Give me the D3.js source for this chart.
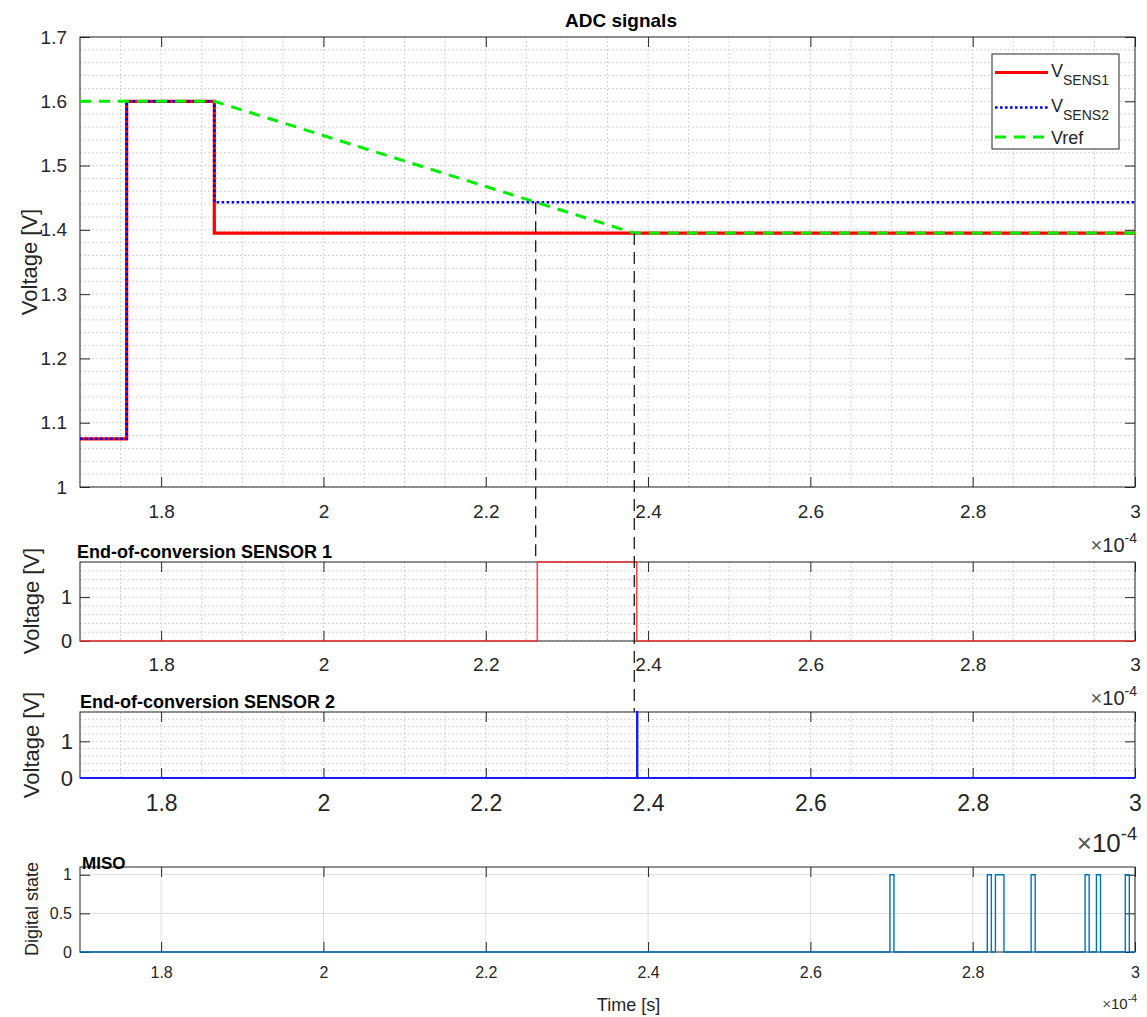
<!DOCTYPE html>
<html>
<head>
<meta charset="utf-8">
<script src="https://cdn.jsdelivr.net/npm/d3@7"></script>
<style>
  html, body { margin: 0; padding: 0; background: #fff; }
  svg { display: block; font-family: "Liberation Sans", Arial, Helvetica, sans-serif; }
  .tick text { fill: #262626; }
  .domain { display: none; }
  .tick line { stroke: #262626; }
</style>
</head>
<body>
<svg id="fig" width="1147" height="1017"></svg>
<script>
// ---- time axis (units of 1e-4 s) ----
const timeTicks = [1.8, 2, 2.2, 2.4, 2.6, 2.8, 3];
const timeTickLabels = ["1.8", "2", "2.2", "2.4", "2.6", "2.8", "3"];

// ---- ADC input voltages ----
const vsens1T = [1.7, 1.7575, 1.7575, 1.8655, 1.8655, 3.0];
const vsens1V = [1.075, 1.075, 1.6, 1.6, 1.395, 1.395];
const vsens2T = [1.7, 1.7575, 1.7575, 1.8655, 1.8655, 3.0];
const vsens2V = [1.075, 1.075, 1.6, 1.6, 1.443, 1.443];
const vrefT = [1.7, 1.8655, 2.383, 3.0];
const vrefV = [1.6, 1.6, 1.395, 1.395];
const adcTicks = [1, 1.1, 1.2, 1.3, 1.4, 1.5, 1.6, 1.7];
const adcTickLabels = ["1", "1.1", "1.2", "1.3", "1.4", "1.5", "1.6", "1.7"];

// ---- end-of-conversion flags ----
const eoc1T = [1.7, 2.2635, 2.2635, 2.386, 2.386, 3.0];
const eoc1V = [0, 0, 1.8, 1.8, 0, 0];
const eoc2T = [1.7, 2.3862, 2.3862, 2.3870, 2.3870, 3.0];
const eoc2V = [0, 0, 1.8, 1.8, 0, 0];
const eocTicks = [0, 1];
const eocTickLabels = ["0", "1"];

// ---- comparator crossing instants (Vref meets VSENS2, then VSENS1) ----
const crossT = [2.2615, 2.383];
const crossV = [1.443, 1.395];

// ---- MISO digital line ----
const misoT = [1.7, 2.698, 2.698, 2.703, 2.703, 2.818, 2.818, 2.823, 2.823, 2.828, 2.828, 2.8385, 2.8385,
               2.872, 2.872, 2.877, 2.877, 2.9385, 2.9385, 2.9435, 2.9435, 2.9525, 2.9525, 2.9575, 2.9575,
               2.988, 2.988, 2.993, 2.993, 3.0];
const misoV = [0, 0, 1, 1, 0, 0, 1, 1, 0, 0, 1, 1, 0,
               0, 1, 1, 0, 0, 1, 1, 0, 0, 1, 1, 0,
               0, 1, 1, 0, 0];
const misoTicks = [0, 0.5, 1];
const misoTickLabels = ["0", "0.5", "1"];

const svg = d3.select("#fig");
const INK = "#262626";
const X0 = 80, X1 = 1135;
const x = d3.scaleLinear().domain([1.7, 3.0]).range([X0, X1]);

function zip(ts, vs) { return ts.map((t, i) => [t, vs[i]]); }

// Build one axes box: frame, grid, ticks on all four sides, tick labels.
function panel(o) {
  const y = d3.scaleLinear().domain(o.yDomain).range([o.bottom, o.top]);
  const g = svg.append("g");
  const grid = g.append("g");
  o.gridX.forEach(t => grid.append("line")
    .attr("x1", x(t)).attr("x2", x(t)).attr("y1", o.top).attr("y2", o.bottom)
    .attr("stroke", o.gridColor).attr("stroke-width", 1).attr("stroke-dasharray", o.gridDash));
  o.gridY.forEach(v => grid.append("line")
    .attr("x1", X0).attr("x2", X1).attr("y1", y(v)).attr("y2", y(v))
    .attr("stroke", o.gridColor).attr("stroke-width", 1).attr("stroke-dasharray", o.gridDash));

  const tl = 10;
  g.append("g").attr("transform", `translate(0,${o.bottom})`)
    .call(d3.axisBottom(x).tickValues(timeTicks).tickFormat((d, i) => timeTickLabels[i])
      .tickSizeInner(-tl).tickSizeOuter(0).tickPadding(o.xPad))
    .call(s => s.selectAll("text").attr("font-size", o.xFont));
  g.append("g").attr("transform", `translate(0,${o.top})`)
    .call(d3.axisTop(x).tickValues(timeTicks).tickFormat("").tickSizeInner(-tl).tickSizeOuter(0));
  g.append("g").attr("transform", `translate(${X0},0)`)
    .call(d3.axisLeft(y).tickValues(o.yTicks).tickFormat((d, i) => o.yLabels[i])
      .tickSizeInner(-tl).tickSizeOuter(0).tickPadding(o.yPad))
    .call(s => s.selectAll("text").attr("font-size", o.yFont));
  g.append("g").attr("transform", `translate(${X1},0)`)
    .call(d3.axisRight(y).tickValues(o.yTicks).tickFormat("").tickSizeInner(-tl).tickSizeOuter(0));
  g.selectAll(".tick line").attr("stroke", INK);
  g.selectAll(".tick text").attr("fill", INK).attr("font-family", "Liberation Sans, Arial, sans-serif");

  g.append("rect").attr("x", X0).attr("y", o.top).attr("width", X1 - X0).attr("height", o.bottom - o.top)
    .attr("fill", "none").attr("stroke", INK).attr("stroke-width", 1);
  return { y, g };
}

function trace(p, ts, vs, style) {
  const line = d3.line().x(d => x(d[0])).y(d => p.y(d[1]));
  const path = svg.append("path").attr("d", line(zip(ts, vs))).attr("fill", "none")
    .attr("stroke-linejoin", "miter");
  Object.entries(style).forEach(([k, v]) => path.attr(k, v));
  return path;
}

function exponent(xRight, baseline, size) {
  const t = svg.append("text").attr("x", xRight).attr("y", baseline).attr("text-anchor", "end")
    .attr("fill", INK).attr("font-size", size);
  t.append("tspan").attr("fill", "#555").text("\u00d7");
  t.append("tspan").text("10");
  t.append("tspan").attr("dy", -size * 0.45).attr("font-size", size * 0.7).text("-4");
}

function yTitle(text, cx, cy, size) {
  svg.append("text").attr("transform", `translate(${cx},${cy}) rotate(-90)`)
    .attr("text-anchor", "middle").attr("dominant-baseline", "middle")
    .attr("fill", INK).attr("font-size", size).text(text);
}

function boldTitle(text, xPos, baseline, size, anchor) {
  svg.append("text").attr("x", xPos).attr("y", baseline).attr("text-anchor", anchor || "start")
    .attr("font-weight", "bold").attr("fill", "#000").attr("font-size", size).text(text);
}

const dottedGrid = "2,2";
const minorX = d3.range(1.7, 3.0001, 0.05);

// ---- panel 1: ADC signals ----
const p1 = panel({
  top: 37, bottom: 487, yDomain: [1, 1.7], yTicks: adcTicks, yLabels: adcTickLabels,
  gridX: minorX, gridY: d3.range(1.0, 1.7001, 0.02), gridColor: "#d2d2d2", gridDash: dottedGrid,
  xPad: 18, xFont: 19, yPad: 13, yFont: 19
});
// ---- panel 2: end-of-conversion sensor 1 ----
const p2 = panel({
  top: 562, bottom: 641, yDomain: [0, 1.8], yTicks: eocTicks, yLabels: eocTickLabels,
  gridX: minorX, gridY: d3.range(0, 1.8001, 0.2), gridColor: "#d2d2d2", gridDash: dottedGrid,
  xPad: 17, xFont: 19, yPad: 8, yFont: 20
});
// ---- panel 3: end-of-conversion sensor 2 ----
const p3 = panel({
  top: 712, bottom: 778, yDomain: [0, 1.8], yTicks: eocTicks, yLabels: eocTickLabels,
  gridX: minorX, gridY: d3.range(0, 1.8001, 0.2), gridColor: "#d2d2d2", gridDash: dottedGrid,
  xPad: 17, xFont: 23, yPad: 7, yFont: 22
});
// ---- panel 4: MISO ----
const p4 = panel({
  top: 867, bottom: 952, yDomain: [0, 1.1], yTicks: misoTicks, yLabels: misoTickLabels,
  gridX: timeTicks, gridY: [0.5, 1], gridColor: "#dedede", gridDash: null,
  xPad: 15, xFont: 16, yPad: 8, yFont: 16
});

// traces, panel 1
trace(p1, vsens1T, vsens1V, { stroke: "#ff0000", "stroke-width": 3.2 });
trace(p1, vsens2T, vsens2V, { stroke: "#0000ff", "stroke-width": 2.6, "stroke-dasharray": "2.6,2.4" });
trace(p1, vrefT, vrefV, { stroke: "#00ee00", "stroke-width": 3, "stroke-dasharray": "11,8" });

// traces, panels 2-4
trace(p2, eoc1T, eoc1V, { stroke: "#ff2a2a", "stroke-width": 1.6, "stroke-opacity": 0.85 });
trace(p3, eoc2T, eoc2V, { stroke: "#1a1aff", "stroke-width": 1.8 });
trace(p4, misoT, misoV, { stroke: "#0072bd", "stroke-width": 1.4 });

// vertical markers from the crossing points down to the flag panels
const markerEnds = [p2.y(1.8), p3.y(1.8)];
crossT.forEach((t, i) => {
  svg.append("line").attr("x1", x(t)).attr("x2", x(t))
    .attr("y1", p1.y(crossV[i])).attr("y2", markerEnds[i])
    .attr("stroke", "#1a1a1a").attr("stroke-width", 1.3).attr("stroke-dasharray", "12,7");
});

// legend
const lg = svg.append("g");
lg.append("rect").attr("x", 992).attr("y", 54).attr("width", 127).attr("height", 95)
  .attr("fill", "#fff").attr("stroke", INK).attr("stroke-width", 1);
const legendRows = [
  { y: 72.5, stroke: "#ff0000", dash: null, w: 3, main: "V", sub: "SENS1" },
  { y: 107.5, stroke: "#0000ff", dash: "2.6,2.4", w: 2.6, main: "V", sub: "SENS2" },
  { y: 137, stroke: "#00ee00", dash: "11,8", w: 3, main: "Vref", sub: null }
];
legendRows.forEach(r => {
  lg.append("line").attr("x1", 995).attr("x2", 1048).attr("y1", r.y).attr("y2", r.y)
    .attr("stroke", r.stroke).attr("stroke-width", r.w).attr("stroke-dasharray", r.dash);
  const t = lg.append("text").attr("x", 1051).attr("y", r.sub ? r.y + 4 : r.y + 6.5)
    .attr("fill", INK).attr("font-size", 18);
  t.append("tspan").text(r.main);
  if (r.sub) t.append("tspan").attr("dy", 8).attr("font-size", 14).text(r.sub);
});

// titles and axis labels
boldTitle("ADC signals", 621, 27, 19, "middle");
yTitle("Voltage [V]", 31, 262, 22);

boldTitle("End-of-conversion SENSOR 1", 77, 558, 18);
yTitle("Voltage [V]", 33, 601, 22);
exponent(1137, 552, 20);

boldTitle("End-of-conversion SENSOR 2", 80, 708, 18);
yTitle("Voltage [V]", 33, 745, 22);
exponent(1137, 705, 20);

exponent(1137, 852, 26);
boldTitle("MISO", 82, 869, 17);
yTitle("Digital state", 33, 909, 18);
svg.append("text").attr("x", (X0 + X1) / 2 + 21).attr("y", 1011).attr("text-anchor", "middle")
  .attr("fill", INK).attr("font-size", 18).text("Time [s]");
exponent(1137, 1009, 15);
</script>
</body>
</html>
